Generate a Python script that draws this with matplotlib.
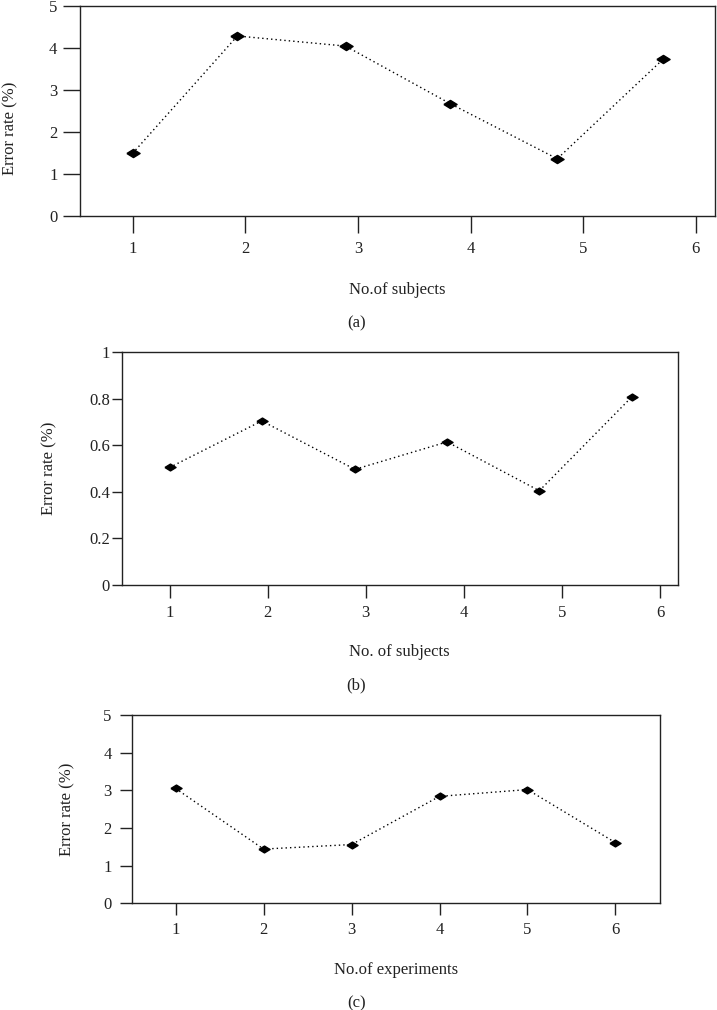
import matplotlib
matplotlib.use("Agg")
import matplotlib.pyplot as plt

plt.rcParams['font.family'] = ['Liberation Serif', 'DejaVu Serif']

# Panel (a)
x_a = [1, 1.93, 2.89, 3.82, 4.77, 5.71]
y_a = [1.49, 4.28, 4.04, 2.67, 1.36, 3.73]
# Panel (b)
x_b = [1, 1.94, 2.89, 3.83, 4.77, 5.71]
y_b = [0.505, 0.705, 0.497, 0.615, 0.405, 0.807]
# Panel (c)
x_c = [1, 2, 3, 4, 5, 6]
y_c = [3.05, 1.44, 1.56, 2.84, 3.02, 1.61]

xticks = [1, 2, 3, 4, 5, 6]
yticks_a = [0, 1, 2, 3, 4, 5]
yticks_b = [0, 0.2, 0.4, 0.6, 0.8, 1]
yticklabels_b = ['0', '0.2', '0.4', '0.6', '0.8', '1']
yticks_c = [0, 1, 2, 3, 4, 5]

xlabels = ['No.of subjects', 'No. of subjects', 'No.of experiments']
panel_labels = ['(a)', '(b)', '(c)']
ylabel = 'Error rate (%)'

W, H = 717, 1010
fig = plt.figure(figsize=(W / 100, H / 100), dpi=100)

diamond = [(-1, 0), (0, 0.62), (1, 0), (0, -0.62), (-1, 0)]

def px_rect(l, r, t, b):
    return [l / W, 1 - b / H, (r - l) / W, (b - t) / H]

specs = [
    dict(rect=px_rect(80, 715, 5.7, 216), x=x_a, y=y_a, xlim=(0.533, 6.17), yticks=yticks_a,
         ytl=[str(v) for v in yticks_a], ms=9.5, xtl=17, ytl_len=17, xpad=6, ypad=4,
         ylab_x=10, ylab_y=128, xlab_y=290, plab_y=323),
    dict(rect=px_rect(122, 677.6, 352.3, 585), x=x_b, y=y_b, xlim=(0.515, 6.18), yticks=yticks_b,
         ytl=yticklabels_b, ms=8, xtl=13, ytl_len=10, xpad=5, ypad=1.5,
         ylab_x=49, ylab_y=468, xlab_y=652, plab_y=685),
    dict(rect=px_rect(132, 660, 715, 903.3), x=x_c, y=y_c, xlim=(0.505, 6.506), yticks=yticks_c,
         ytl=[str(v) for v in yticks_c], ms=8, xtl=12, ytl_len=12, xpad=4.5, ypad=6,
         ylab_x=67, ylab_y=809, xlab_y=970, plab_y=1003),
]

for i, s in enumerate(specs):
    ax = fig.add_axes(s['rect'])
    ax.plot(s['x'], s['y'], linestyle=(0, (1, 2.2)), color='black', linewidth=1.0,
            marker=diamond, markersize=s['ms'], markerfacecolor='black',
            markeredgecolor='black', clip_on=False)
    ax.set_xlim(*s['xlim'])
    ax.set_ylim(s['yticks'][0], s['yticks'][-1])
    ax.set_xticks(xticks)
    ax.set_xticklabels([str(v) for v in xticks])
    ax.set_yticks(s['yticks'])
    ax.set_yticklabels(s['ytl'])
    for sp in ax.spines.values():
        sp.set_linewidth(1.0)
        sp.set_color('#222222')
    ax.tick_params(axis='x', direction='out', length=s['xtl'] * 0.72, width=1.0,
                   pad=s['xpad'], labelsize=12, colors='#222222')
    ax.tick_params(axis='y', direction='out', length=s['ytl_len'] * 0.72, width=1.0,
                   pad=s['ypad'], labelsize=12, colors='#222222')
    fig.text(s['ylab_x'] / W, 1 - s['ylab_y'] / H, ylabel, rotation=90,
             ha='center', va='center', fontsize=12, color='#222222')
    cx = (s['rect'][0] + s['rect'][2] / 2)
    fig.text(cx, 1 - s['xlab_y'] / H, xlabels[i], ha='center', va='center',
             fontsize=12, color='#222222')
    fig.text(356.5 / W, 1 - s['plab_y'] / H, panel_labels[i], ha='center', va='center',
             fontsize=12, color='#222222')

fig.savefig('out.png', dpi=100)
